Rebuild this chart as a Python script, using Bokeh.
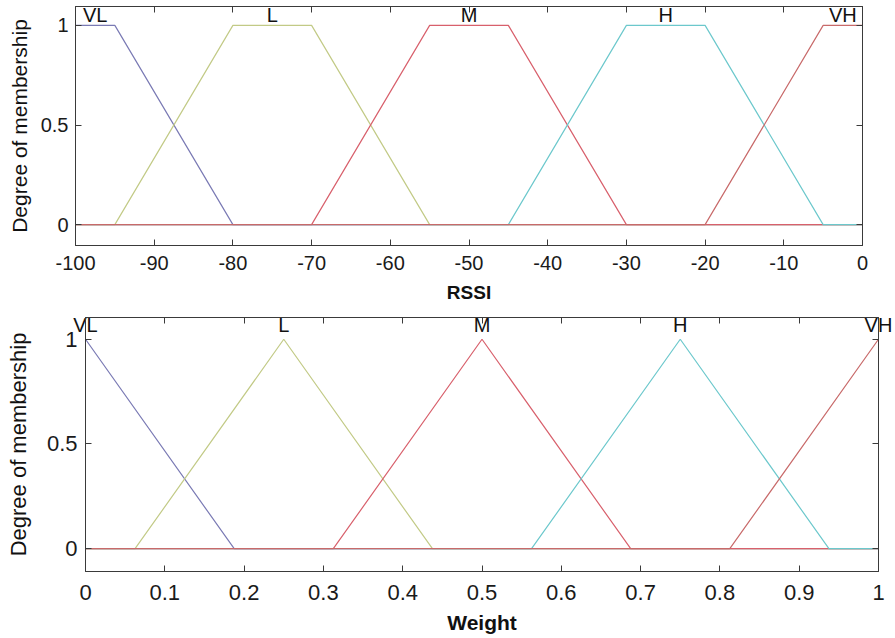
from bokeh.plotting import figure
from bokeh.models import Range1d, LinearAxis, FixedTicker
from bokeh.embed import file_html
from bokeh.resources import INLINE

# ---------------- data ----------------
mf_names = ["VL", "L", "M", "H", "VH"]
mf_colors = ["#7a7ab4", "#c2ca86", "#d8606c", "#6cc8cc", "#c86a6a"]

rssi_vl_x = [-100, -95, -80, 0]
rssi_vl_y = [1, 1, 0, 0]
rssi_l_x = [-100, -95, -80, -70, -55, 0]
rssi_l_y = [0, 0, 1, 1, 0, 0]
rssi_m_x = [-100, -70, -55, -45, -30, 0]
rssi_m_y = [0, 0, 1, 1, 0, 0]
rssi_h_x = [-100, -45, -30, -20, -5, 0]
rssi_h_y = [0, 0, 1, 1, 0, 0]
rssi_vh_x = [-100, -20, -5, 0]
rssi_vh_y = [0, 0, 1, 1]
rssi_label_x = [-97.5, -75, -50, -25, -2.5]

weight_vl_x = [0, 0.1875, 1]
weight_vl_y = [1, 0, 0]
weight_l_x = [0, 0.0625, 0.25, 0.4375, 1]
weight_l_y = [0, 0, 1, 0, 0]
weight_m_x = [0, 0.3125, 0.5, 0.6875, 1]
weight_m_y = [0, 0, 1, 0, 0]
weight_h_x = [0, 0.5625, 0.75, 0.9375, 1]
weight_h_y = [0, 0, 1, 0, 0]
weight_vh_x = [0, 0.8125, 1]
weight_vh_y = [0, 0, 1]
weight_label_x = [0, 0.25, 0.5, 0.75, 1]

rssi_ticks = [-100, -90, -80, -70, -60, -50, -40, -30, -20, -10, 0]
rssi_tick_labels = ["-100", "-90", "-80", "-70", "-60", "-50", "-40", "-30", "-20", "-10", "0"]
weight_ticks = [0, 0.1, 0.2, 0.3, 0.4, 0.5, 0.6, 0.7, 0.8, 0.9, 1]
weight_tick_labels = ["0", "0.1", "0.2", "0.3", "0.4", "0.5", "0.6", "0.7", "0.8", "0.9", "1"]
y_ticks = [0, 0.5, 1]
y_tick_labels = ["0", "0.5", "1"]

FONT = "Liberation Sans"
FRAME = "#3a3a3a"


def style_axis(ax, ticks, labels, size, standoff, show_labels=True):
    ax.ticker = FixedTicker(ticks=ticks)
    ax.major_tick_in = 6
    ax.major_tick_out = 0
    ax.minor_tick_in = 0
    ax.minor_tick_out = 0
    ax.axis_line_color = FRAME
    ax.major_tick_line_color = FRAME
    ax.major_label_text_font = FONT
    if show_labels:
        ax.major_label_overrides = {t: l for t, l in zip(ticks, labels)}
        ax.major_label_text_color = "#1a1a1a"
        ax.major_label_text_font_size = size
        ax.major_label_standoff = standoff
    else:
        ax.major_label_text_color = None
        ax.major_label_text_font_size = "1px"
        ax.major_label_standoff = 0


def make_panel(width, height, x_range, y_range, borders, xs, ys, xticks, xlabels,
               lab_x, xlabel, tick_size, ylab_size, xlab_size, xstand, ystand,
               ylab_stand, xlab_stand, name_standoff):
    p = figure(width=width, height=height, x_range=x_range, y_range=y_range,
               output_backend="svg", toolbar_location=None,
               min_border_left=borders[0], min_border_right=borders[1],
               min_border_top=borders[2], min_border_bottom=borders[3],
               x_axis_location=None, y_axis_location=None)
    p.grid.visible = False
    p.outline_line_color = FRAME
    p.background_fill_color = "white"
    p.border_fill_color = "white"

    for x, y, c in zip(xs, ys, mf_colors):
        p.line(x, y, line_color=c, line_width=1.2)

    bx = LinearAxis()
    style_axis(bx, xticks, xlabels, tick_size, xstand)
    bx.axis_label = xlabel
    bx.axis_label_text_font = FONT
    bx.axis_label_text_font_style = "bold"
    bx.axis_label_text_font_size = xlab_size
    bx.axis_label_text_color = "#111111"
    bx.axis_label_standoff = xlab_stand
    p.add_layout(bx, "below")

    ax_top = LinearAxis()
    style_axis(ax_top, xticks, xlabels, tick_size, 0, show_labels=False)
    p.add_layout(ax_top, "above")

    # membership-function names, drawn just under the top edge of the box
    names_ax = LinearAxis(ticker=FixedTicker(ticks=lab_x),
                          major_label_overrides={x: n for x, n in zip(lab_x, mf_names)},
                          axis_line_color=None, major_tick_line_color=None,
                          minor_tick_line_color=None, major_tick_in=0, major_tick_out=0,
                          major_label_text_font=FONT, major_label_text_font_size="20px",
                          major_label_text_color="#111111",
                          major_label_standoff=name_standoff)
    p.add_layout(names_ax, "above")

    ly = LinearAxis()
    style_axis(ly, y_ticks, y_tick_labels, tick_size, ystand)
    ly.axis_label = "Degree of membership"
    ly.axis_label_text_font = FONT
    ly.axis_label_text_font_style = "normal"
    ly.axis_label_text_font_size = ylab_size
    ly.axis_label_text_color = "#111111"
    ly.axis_label_standoff = ylab_stand
    p.add_layout(ly, "left")

    ry = LinearAxis()
    style_axis(ry, y_ticks, y_tick_labels, tick_size, 0, show_labels=False)
    p.add_layout(ry, "right")
    return p


top = make_panel(
    895, 310, Range1d(-100, 0), Range1d(-0.105, 1.095), (75, 33, 6, 65),
    [rssi_vl_x, rssi_l_x, rssi_m_x, rssi_h_x, rssi_vh_x],
    [rssi_vl_y, rssi_l_y, rssi_m_y, rssi_h_y, rssi_vh_y],
    rssi_ticks, rssi_tick_labels, rssi_label_x, "RSSI",
    "20px", "21px", "19px", 10, 7, 7, 9, -19)

bottom = make_panel(
    895, 328, Range1d(0, 1), Range1d(-0.109, 1.104), (85, 17, 5, 67),
    [weight_vl_x, weight_l_x, weight_m_x, weight_h_x, weight_vh_x],
    [weight_vl_y, weight_l_y, weight_m_y, weight_h_y, weight_vh_y],
    weight_ticks, weight_tick_labels, weight_label_x, "Weight",
    "22px", "22px", "21px", 13, 8, 13, 8, -18)

# two independent roots, stacked on the page, so each keeps its own box
open("out.html", "w").write(file_html([top, bottom], INLINE))
